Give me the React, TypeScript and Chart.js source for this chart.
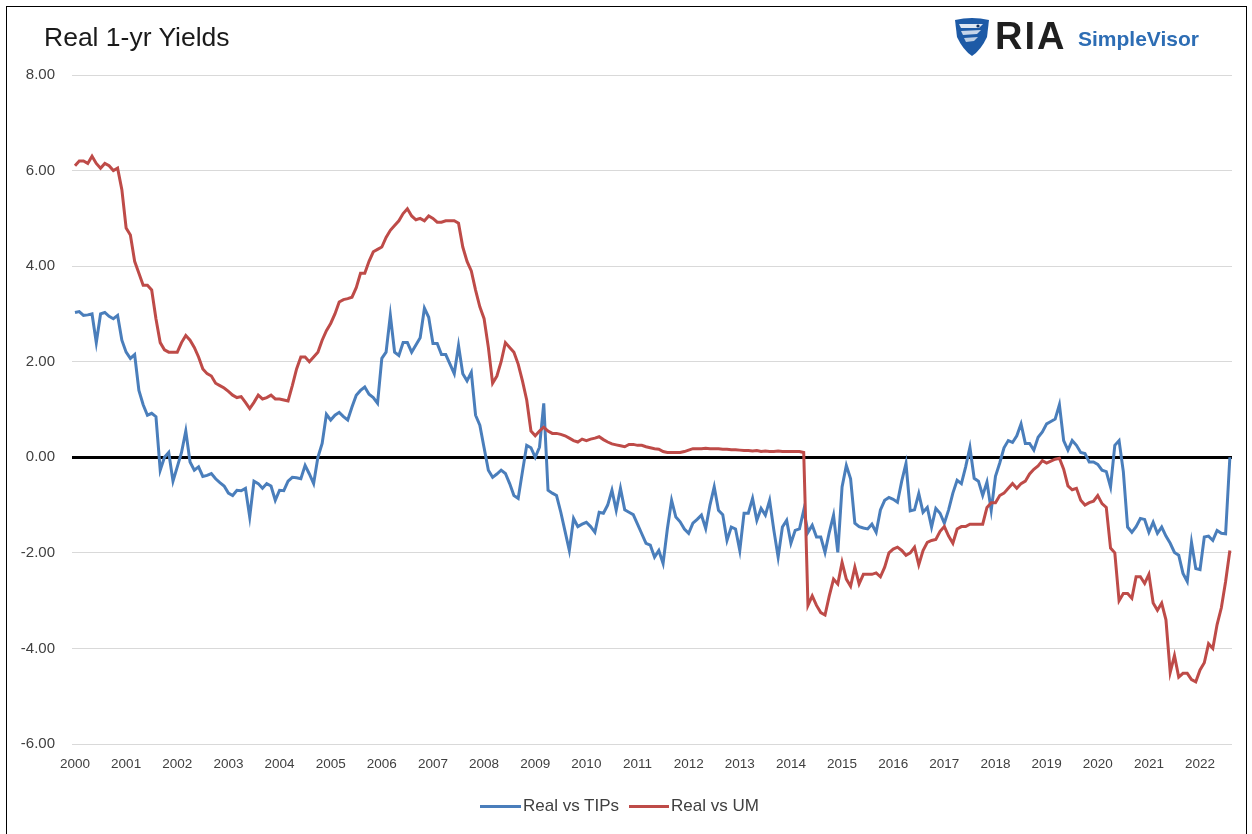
import React, { useEffect, useRef } from 'react';
import { Chart, registerables } from 'chart.js';

Chart.register(...registerables);

// Monthly values, Jan 2000 onward
const tipsValues: number[] = [
  // 2000
  3.03, 3.05, 2.97, 2.98, 3.0, 2.4, 3.0, 3.03, 2.95, 2.9, 2.97, 2.45,
  // 2001
  2.2, 2.07, 2.15, 1.4, 1.1, 0.88, 0.92, 0.85, -0.27, 0.0, 0.1, -0.5,
  // 2002
  -0.2, 0.1, 0.55, -0.1, -0.27, -0.2, -0.4, -0.38, -0.34, -0.45, -0.53, -0.6,
  // 2003
  -0.75, -0.8, -0.69, -0.7, -0.65, -1.25, -0.5, -0.55, -0.65, -0.55, -0.6, -0.9,
  // 2004
  -0.69, -0.7, -0.5, -0.42, -0.43, -0.45, -0.17, -0.35, -0.55, 0.0, 0.29, 0.9,
  // 2005
  0.78, 0.88, 0.94, 0.85, 0.78, 1.05, 1.3, 1.4, 1.47, 1.32, 1.25, 1.13,
  // 2006
  2.07, 2.2, 2.97, 2.2, 2.13, 2.4, 2.4, 2.2, 2.35, 2.5, 3.12, 2.93,
  // 2007
  2.38, 2.38, 2.15, 2.15, 1.95, 1.75, 2.34, 1.75, 1.6, 1.78, 0.88, 0.67,
  // 2008
  0.2, -0.27, -0.42, -0.35, -0.27, -0.34, -0.55, -0.8, -0.86, -0.3, 0.25, 0.2,
  // 2009
  0.0, 0.21, 1.13, -0.69, -0.75, -0.8, -1.15, -1.55, -1.95, -1.28, -1.45, -1.4,
  // 2010
  -1.36, -1.45, -1.57, -1.15, -1.17, -1.0, -0.69, -1.11, -0.65, -1.1, -1.15, -1.2,
  // 2011
  -1.4, -1.6, -1.8, -1.84, -2.09, -1.95, -2.22, -1.5, -0.9, -1.25, -1.35, -1.5,
  // 2012
  -1.59, -1.38, -1.3, -1.21, -1.49, -1.0, -0.62, -1.11, -1.2, -1.74, -1.46, -1.5,
  // 2013
  -1.95, -1.17, -1.17, -0.86, -1.32, -1.07, -1.21, -0.9, -1.53, -2.09, -1.46, -1.32,
  // 2014
  -1.8, -1.53, -1.5, -1.11, -1.57, -1.42, -1.67, -1.67, -1.99, -1.57, -1.21, -1.99,
  // 2015
  -0.62, -0.17, -0.45, -1.38, -1.45, -1.48, -1.5, -1.4, -1.57, -1.1, -0.9, -0.84,
  // 2016
  -0.88, -0.94, -0.5, -0.13, -1.12, -1.1, -0.76, -1.15, -1.05, -1.46, -1.07, -1.17,
  // 2017
  -1.38, -1.1, -0.75, -0.48, -0.55, -0.2, 0.21, -0.44, -0.5, -0.8, -0.52, -1.11,
  // 2018
  -0.4, -0.12, 0.2, 0.35, 0.31, 0.45, 0.7, 0.29, 0.29, 0.15, 0.42, 0.53,
  // 2019
  0.7, 0.75, 0.8, 1.1, 0.35, 0.15, 0.35, 0.25, 0.1, 0.08, -0.1, -0.1,
  // 2020
  -0.15, -0.27, -0.3, -0.62, 0.25, 0.35, -0.3, -1.46, -1.57, -1.45, -1.28, -1.3,
  // 2021
  -1.57, -1.36, -1.59, -1.46, -1.65, -1.8, -1.99, -2.05, -2.43, -2.6, -1.78, -2.33,
  // 2022
  -2.35, -1.67, -1.65, -1.74, -1.53, -1.59, -1.6, 0.0,
];

const umValues: number[] = [
  // 2000
  6.1, 6.2, 6.2, 6.15, 6.3, 6.15, 6.05, 6.15, 6.1, 6.0, 6.05, 5.6,
  // 2001
  4.8, 4.65, 4.1, 3.85, 3.6, 3.6, 3.5, 2.9, 2.4, 2.25, 2.2, 2.2,
  // 2002
  2.2, 2.4, 2.55, 2.45, 2.3, 2.1, 1.85, 1.75, 1.7, 1.55, 1.5, 1.45,
  // 2003
  1.38, 1.3, 1.25, 1.27, 1.15, 1.02, 1.15, 1.3, 1.22, 1.25, 1.3, 1.22,
  // 2004
  1.22, 1.2, 1.18, 1.5, 1.85, 2.1, 2.1, 2.0, 2.1, 2.2, 2.45, 2.65,
  // 2005
  2.8, 3.0, 3.25, 3.3, 3.32, 3.35, 3.55, 3.85, 3.85, 4.1, 4.3, 4.35,
  // 2006
  4.4, 4.6, 4.75, 4.85, 4.95, 5.1, 5.2, 5.05, 4.97, 5.0, 4.95, 5.05,
  // 2007
  5.0, 4.92, 4.92, 4.95, 4.95, 4.95, 4.9, 4.4, 4.1, 3.9, 3.5, 3.15,
  // 2008
  2.9, 2.3, 1.55, 1.7, 2.0, 2.4, 2.3, 2.2, 1.95, 1.6, 1.2, 0.55,
  // 2009
  0.45, 0.55, 0.63, 0.55, 0.5, 0.5, 0.48, 0.45, 0.4, 0.35, 0.32, 0.38,
  // 2010
  0.35, 0.38, 0.4, 0.43, 0.37, 0.32, 0.28, 0.26, 0.24, 0.22, 0.27, 0.27,
  // 2011
  0.25, 0.25, 0.22, 0.2, 0.18, 0.17, 0.12, 0.1, 0.1, 0.1, 0.1, 0.12,
  // 2012
  0.15, 0.18, 0.18, 0.18, 0.19, 0.18, 0.18, 0.18, 0.17, 0.17, 0.16, 0.16,
  // 2013
  0.15, 0.14, 0.14, 0.13, 0.14, 0.12, 0.13, 0.12, 0.12, 0.13, 0.12, 0.12,
  // 2014
  0.12, 0.12, 0.12, 0.1, -3.1, -2.9, -3.1, -3.25, -3.3, -2.9, -2.55, -2.65,
  // 2015
  -2.2, -2.55, -2.7, -2.3, -2.65, -2.45, -2.45, -2.45, -2.42, -2.5, -2.3, -2.0,
  // 2016
  -1.92, -1.88, -1.95, -2.05, -2.0, -1.88, -2.25, -1.95, -1.78, -1.74, -1.72, -1.55,
  // 2017
  -1.45, -1.65, -1.8, -1.5, -1.45, -1.45, -1.4, -1.4, -1.4, -1.4, -1.05, -0.95,
  // 2018
  -0.95, -0.8, -0.75, -0.65, -0.55, -0.65, -0.55, -0.5, -0.35, -0.25, -0.18, -0.07,
  // 2019
  -0.12, -0.08, -0.04, -0.02, -0.25, -0.6, -0.68, -0.65, -0.9, -1.0, -0.95, -0.92,
  // 2020
  -0.8, -0.97, -1.05, -1.9, -2.0, -3.0, -2.85, -2.85, -2.95, -2.5, -2.5, -2.64,
  // 2021
  -2.45, -3.05, -3.2, -3.05, -3.4, -4.5, -4.15, -4.6, -4.52, -4.52, -4.65, -4.7,
  // 2022
  -4.45, -4.3, -3.9, -4.0, -3.5, -3.15, -2.6, -1.95,
];

const yearLabels: string[] = [
  '2000', '2001', '2002', '2003', '2004', '2005', '2006', '2007', '2008', '2009', '2010', '2011',
  '2012', '2013', '2014', '2015', '2016', '2017', '2018', '2019', '2020', '2021', '2022',
];

const seriesNames = ['Real vs TIPs', 'Real vs UM'];
const BLUE = '#4a7ebb';
const RED = '#be4b48';
const FONT = '"Liberation Sans", Arial, sans-serif';

export default function App() {
  const canvasRef = useRef<HTMLCanvasElement | null>(null);

  useEffect(() => {
    const canvas = canvasRef.current;
    if (!canvas) return;
    const chart = new Chart(canvas, {
      type: 'line',
      data: {
        datasets: [
          {
            label: seriesNames[1],
            data: umValues.map((v, i) => ({ x: i, y: v })),
            borderColor: RED,
            backgroundColor: RED,
            borderWidth: 3,
            pointRadius: 0,
            tension: 0,
            order: 0,
          },
          {
            label: seriesNames[0],
            data: tipsValues.map((v, i) => ({ x: i, y: v })),
            borderColor: BLUE,
            backgroundColor: BLUE,
            borderWidth: 3,
            pointRadius: 0,
            tension: 0,
            order: 1,
          },
        ],
      },
      options: {
        animation: false,
        responsive: false,
        maintainAspectRatio: false,
        layout: { padding: { top: 75, right: 20, left: 0, bottom: 0 } },
        plugins: { legend: { display: false }, tooltip: { enabled: false } },
        scales: {
          x: {
            type: 'linear',
            min: -0.7,
            max: 271.5,
            grid: { display: false, drawTicks: false },
            border: { display: false },
            afterBuildTicks: (scale: any) => {
              scale.ticks = yearLabels.map((_, i) => ({ value: i * 12 }));
            },
            afterFit: (scale: any) => {
              scale.height = 90;
            },
            ticks: {
              autoSkip: false,
              maxRotation: 0,
              minRotation: 0,
              padding: 12,
              color: '#404040',
              font: { size: 13.5, family: FONT },
              callback: (v: any) => yearLabels[Math.round(Number(v) / 12)] ?? '',
            },
          },
          y: {
            min: -6,
            max: 8,
            afterFit: (scale: any) => {
              scale.width = 72;
            },
            ticks: {
              stepSize: 2,
              padding: 17,
              color: '#404040',
              font: { size: 15, family: FONT },
              callback: (v: any) => Number(v).toFixed(2),
            },
            grid: {
              drawTicks: false,
              color: (ctx: any) => (ctx.tick && ctx.tick.value === 0 ? '#000000' : '#d9d9d9'),
              lineWidth: (ctx: any) => (ctx.tick && ctx.tick.value === 0 ? 3 : 1),
            },
            border: { display: false },
          },
        },
      },
    });
    return () => chart.destroy();
  }, []);

  return (
    <div
      style={{
        position: 'fixed',
        left: 0,
        top: 0,
        width: 1252,
        height: 834,
        background: '#ffffff',
        overflow: 'hidden',
        fontFamily: FONT,
      }}
    >
      <div
        style={{
          position: 'absolute',
          left: 6,
          top: 6,
          width: 1241,
          height: 900,
          border: '1.5px solid #000',
          boxSizing: 'border-box',
        }}
      />
      <canvas
        ref={canvasRef}
        width={1252}
        height={834}
        style={{ position: 'absolute', left: 0, top: 0, width: 1252, height: 834 }}
      />
      <div
        style={{
          position: 'absolute',
          left: 44,
          top: 22,
          fontSize: 26.5,
          color: '#1a1a1a',
          whiteSpace: 'nowrap',
        }}
      >
        Real 1-yr Yields
      </div>
      {/* Logo */}
      <svg
        width={38}
        height={40}
        viewBox="0 0 38 40"
        style={{ position: 'absolute', left: 953, top: 17 }}
      >
        <path d="M2 3 Q19 -1 36 3 L34 20 Q28 33 19 39 Q10 33 4 20 Z" fill="#1d5aa6" />
        <path d="M6 7 L30 7 L26 11 L8 11 Z" fill="#ffffff" opacity={0.85} />
        <path d="M8 14 L28 13 L24 17 L10 18 Z" fill="#ffffff" opacity={0.75} />
        <path d="M11 21 L25 20 L21 24 L13 25 Z" fill="#ffffff" opacity={0.7} />
        <circle cx={25} cy={9} r={1.6} fill="#0b2e5e" />
      </svg>
      <div
        style={{
          position: 'absolute',
          left: 995,
          top: 15,
          fontSize: 38,
          fontWeight: 700,
          letterSpacing: 2,
          color: '#1f1f1f',
          whiteSpace: 'nowrap',
        }}
      >
        RIA
      </div>
      <div
        style={{
          position: 'absolute',
          left: 1078,
          top: 27,
          fontSize: 21,
          fontWeight: 700,
          color: '#2d6db4',
          whiteSpace: 'nowrap',
        }}
      >
        SimpleVisor
      </div>
      {/* Legend */}
      <div style={{ position: 'absolute', left: 480, top: 805, width: 41, height: 3, background: BLUE }} />
      <div
        style={{
          position: 'absolute',
          left: 523,
          top: 796,
          fontSize: 17,
          color: '#404040',
          whiteSpace: 'nowrap',
        }}
      >
        {seriesNames[0]}
      </div>
      <div style={{ position: 'absolute', left: 629, top: 805, width: 40, height: 3, background: RED }} />
      <div
        style={{
          position: 'absolute',
          left: 671,
          top: 796,
          fontSize: 17,
          color: '#404040',
          whiteSpace: 'nowrap',
        }}
      >
        {seriesNames[1]}
      </div>
    </div>
  );
}
